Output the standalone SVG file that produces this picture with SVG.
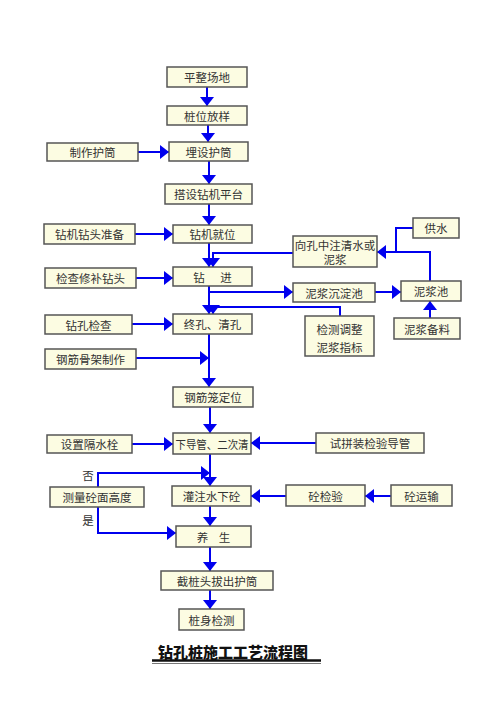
<svg xmlns="http://www.w3.org/2000/svg" width="500" height="721" viewBox="0 0 500 721">
<style>
.b rect{fill:#FCFCE2;stroke:#555;stroke-width:1.5}
.b text{font-family:"Noto Sans CJK SC","Liberation Sans",sans-serif;font-size:11.5px;fill:#333;text-anchor:middle;dominant-baseline:central}
.c path{fill:none;stroke:#0000EE;stroke-width:2}
.lbl{font-family:"Noto Sans CJK SC","Liberation Sans",sans-serif;font-size:11.5px;fill:#333;text-anchor:middle;dominant-baseline:central}
</style>
<defs>
<marker id="a" markerUnits="userSpaceOnUse" markerWidth="9" markerHeight="14" refX="9" refY="7" orient="auto">
<path d="M0,0 L9,7 L0,14 z" fill="#0000EE"/>
</marker>
</defs>
<rect width="500" height="721" fill="#fff"/>
<g class="c">
<path d="M207,87 V106" marker-end="url(#a)"/>
<path d="M208,125 V142" marker-end="url(#a)"/>
<path d="M138,152 H169" marker-end="url(#a)"/>
<path d="M209,161 V184" marker-end="url(#a)"/>
<path d="M209,204 V225" marker-end="url(#a)"/>
<path d="M135,234 H173" marker-end="url(#a)"/>
<path d="M209,243 V267" marker-end="url(#a)"/>
<path d="M293,253 H213 V267" marker-end="url(#a)"/>
<path d="M136,278 H173" marker-end="url(#a)"/>
<path d="M209,286 V314" marker-end="url(#a)"/>
<path d="M209,292 H293" marker-end="url(#a)"/>
<path d="M375,292 H401" marker-end="url(#a)"/>
<path d="M430,318 V301" marker-end="url(#a)"/>
<path d="M430,281 V252 H377" marker-end="url(#a)"/>
<path d="M413,228 H396 V252"/>
<path d="M340,316 V307 H213 V314" marker-end="url(#a)"/>
<path d="M132,324 H173" marker-end="url(#a)"/>
<path d="M209,334 V387" marker-end="url(#a)"/>
<path d="M136,358 H209" marker-end="url(#a)"/>
<path d="M210,407 V433" marker-end="url(#a)"/>
<path d="M132,444 H173" marker-end="url(#a)"/>
<path d="M316,443 H251" marker-end="url(#a)"/>
<path d="M210,454 V486" marker-end="url(#a)"/>
<path d="M98,487 V473 H210" marker-end="url(#a)"/>
<path d="M286,496 H251" marker-end="url(#a)"/>
<path d="M391,496 H365" marker-end="url(#a)"/>
<path d="M210,506 V526" marker-end="url(#a)"/>
<path d="M98,507 V533 H176" marker-end="url(#a)"/>
<path d="M210,547 V571" marker-end="url(#a)"/>
<path d="M210,590 V609" marker-end="url(#a)"/>
</g>
<g id="n1" class="b"><rect x="167" y="67" width="80" height="20"/><text x="207" y="77">平整场地</text></g>
<g id="n2" class="b"><rect x="167" y="106" width="80" height="19"/><text x="207" y="115.5">桩位放样</text></g>
<g id="n3" class="b"><rect x="47" y="143" width="91" height="18"/><text x="92.5" y="152">制作护筒</text></g>
<g id="n4" class="b"><rect x="169" y="142" width="79" height="19"/><text x="208.5" y="151.5">埋设护筒</text></g>
<g id="n5" class="b"><rect x="165" y="184" width="87" height="20"/><text x="208.5" y="194">搭设钻机平台</text></g>
<g id="n6" class="b"><rect x="44" y="224" width="91" height="20"/><text x="89.5" y="234">钻机钻头准备</text></g>
<g id="n7" class="b"><rect x="173" y="225" width="79" height="18"/><text x="212.5" y="234">钻机就位</text></g>
<g id="n8" class="b"><rect x="413" y="218" width="46" height="20"/><text x="436" y="228">供水</text></g>
<g id="n9" class="b"><rect x="293" y="236" width="84" height="31"/><text x="335" y="244.5">向孔中注清水或</text><text x="335" y="259">泥浆</text></g>
<g id="n10" class="b"><rect x="45" y="268" width="91" height="20"/><text x="90.5" y="278">检查修补钻头</text></g>
<g id="n11" class="b"><rect x="173" y="267" width="79" height="19"/><text x="212.5" y="276.5" xml:space="preserve">钻      进</text></g>
<g id="n12" class="b"><rect x="293" y="283" width="82" height="19"/><text x="334" y="292.5">泥浆沉淀池</text></g>
<g id="n13" class="b"><rect x="401" y="281" width="60" height="20"/><text x="431" y="291">泥浆池</text></g>
<g id="n14" class="b"><rect x="45" y="315" width="87" height="19"/><text x="88.5" y="324.5">钻孔检查</text></g>
<g id="n15" class="b"><rect x="173" y="314" width="79" height="20"/><text x="212.5" y="324">终孔、清孔</text></g>
<g id="n16" class="b"><rect x="394" y="318" width="66" height="21"/><text x="427" y="328.5">泥浆备料</text></g>
<g id="n17" class="b"><rect x="305" y="316" width="69" height="40"/><text x="339.5" y="329">检测调整</text><text x="339.5" y="347">泥浆指标</text></g>
<g id="n18" class="b"><rect x="45" y="349" width="91" height="20"/><text x="90.5" y="359">钢筋骨架制作</text></g>
<g id="n19" class="b"><rect x="173" y="387" width="80" height="20"/><text x="213" y="397">钢筋笼定位</text></g>
<g id="n20" class="b"><rect x="47" y="435" width="85" height="18"/><text x="89.5" y="444">设置隔水栓</text></g>
<g id="n21" class="b"><rect x="173" y="433" width="78" height="21"/><text x="212" y="443.5" textLength="73" lengthAdjust="spacingAndGlyphs">下导管、二次清</text></g>
<g id="n22" class="b"><rect x="316" y="433" width="108" height="20"/><text x="370" y="443">试拼装检验导管</text></g>
<g id="n23" class="b"><rect x="50" y="487" width="94" height="20"/><text x="97" y="497">测量砼面高度</text></g>
<g id="n24" class="b"><rect x="172" y="486" width="79" height="20"/><text x="211.5" y="496">灌注水下砼</text></g>
<g id="n25" class="b"><rect x="286" y="485" width="79" height="21"/><text x="325.5" y="495.5">砼检验</text></g>
<g id="n26" class="b"><rect x="391" y="485" width="61" height="21"/><text x="421.5" y="495.5">砼运输</text></g>
<g id="n27" class="b"><rect x="176" y="526" width="75" height="21"/><text x="213.5" y="536.5" xml:space="preserve">养    生</text></g>
<g id="n28" class="b"><rect x="161" y="571" width="112" height="19"/><text x="217" y="580.5">截桩头拔出护筒</text></g>
<g id="n29" class="b"><rect x="179" y="609" width="65" height="21"/><text x="211.5" y="619.5">桩身检测</text></g>
<text class="lbl" x="88" y="475">否</text>
<text class="lbl" x="88" y="520">是</text>
<g id="title">
<text x="233" y="651.5" font-family="'Noto Sans CJK SC','Liberation Sans',sans-serif" font-size="15" font-weight="900" fill="#111" text-anchor="middle" dominant-baseline="central">钻孔桩施工工艺流程图</text>
<line x1="152" y1="660.5" x2="321" y2="660.5" stroke="#111" stroke-width="2.5"/>
<line x1="152" y1="663.5" x2="321" y2="663.5" stroke="#777" stroke-width="1"/>
</g>
</svg>
